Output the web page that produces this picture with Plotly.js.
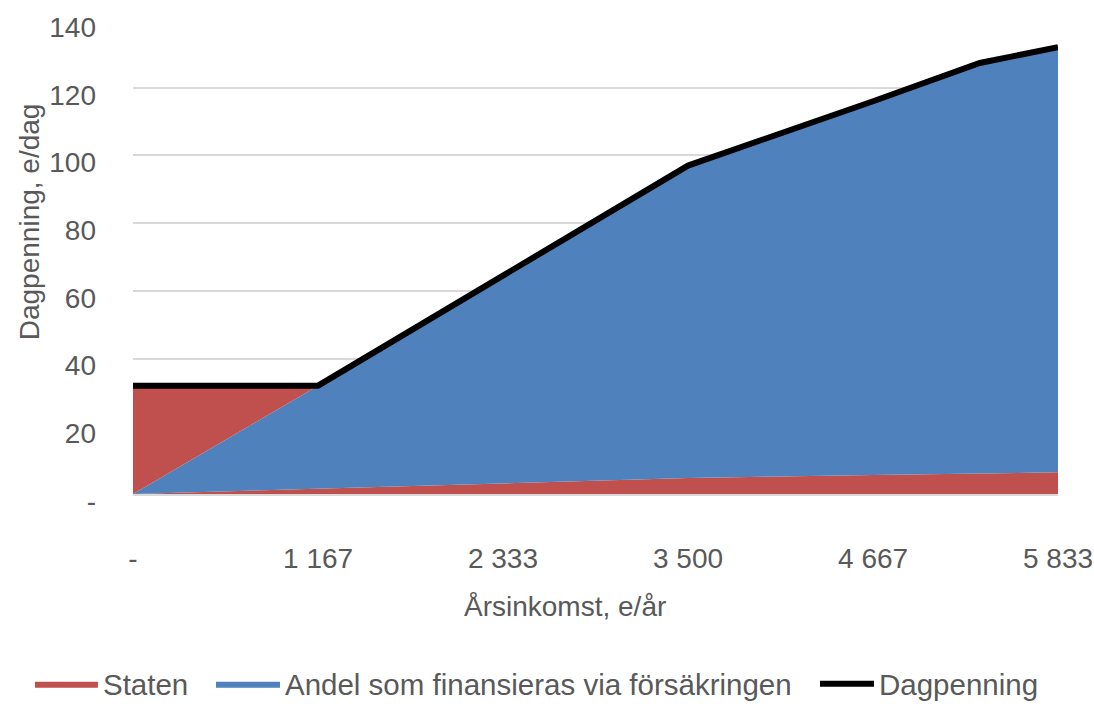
<!DOCTYPE html>
<html>
<head>
<meta charset="utf-8">
<script src="https://cdn.plot.ly/plotly-3.0.1.min.js"></script>
<style>
  html, body { margin: 0; padding: 0; background: white; }
  #chart { width: 1094px; height: 704px; }
</style>
</head>
<body>
<div id="chart"></div>
<script>
// Inkomst (x) och belopp per dag
var inkomst = [0, 1167, 2333, 3500, 4667, 5340, 5833];
var staten = [0, 1.6, 3.1, 4.7, 5.6, 6.1, 6.4];          // statens andel (nedre remsa)
var andel = [0, 30.4, 61.4, 92.3, 110.4, 120.9, 125.6];  // finansieras via försäkringen
var statenGrund = [32, 0, 0, 0, 0, 0, 0];                // staten fyller upp till grunddagpenning
var dagpenning = [32, 32, 64.5, 97, 116, 127.3, 132];

var xTicks = [0, 1167, 2333, 3500, 4667, 5833];
var xTickText = ["-", "1 167", "2 333", "3 500", "4 667", "5 833"];
var yTicks = [0, 20, 40, 60, 80, 100, 120, 140];
var yTickText = ["-", "20", "40", "60", "80", "100", "120", "140"];

var red = "#C0504D";
var blue = "#4F81BD";
var grey = "#595959";

var traceStaten = {
    x: inkomst,
    y: staten,
    name: "Staten",
    type: "scatter",
    mode: "lines",
    stackgroup: "one",
    line: { width: 0 },
    fillcolor: red,
    legend: "legend"
};
var traceAndel = {
    x: inkomst,
    y: andel,
    name: "Andel som finansieras via försäkringen",
    type: "scatter",
    mode: "lines",
    stackgroup: "one",
    line: { width: 0 },
    fillcolor: blue,
    legend: "legend2"
};
var traceGrund = {
    x: inkomst,
    y: statenGrund,
    name: "Staten",
    type: "scatter",
    mode: "lines",
    stackgroup: "one",
    line: { width: 0 },
    fillcolor: red,
    showlegend: false
};
var traceDag = {
    x: inkomst,
    y: dagpenning,
    name: "Dagpenning",
    type: "scatter",
    mode: "lines",
    line: { color: "black", width: 6 },
    legend: "legend3"
};

function legendAt(xPos, symbolWidth) {
    return {
        orientation: "h",
        x: xPos,
        xanchor: "left",
        y: -0.401,
        yanchor: "middle",
        itemwidth: symbolWidth,
        bgcolor: "rgba(0,0,0,0)",
        font: { size: 29.5, color: grey }
    };
}

var layout = {
    width: 1094,
    height: 704,
    paper_bgcolor: "white",
    plot_bgcolor: "white",
    font: { family: "Liberation Sans, Arial, sans-serif", size: 28, color: grey },
    margin: { l: 133, r: 36, t: 20, b: 210, autoexpand: false },
    showlegend: true,
    legend: legendAt(-0.1114, 63),
    legend2: legendAt(0.0843, 64),
    legend3: legendAt(0.7373, 54),
    xaxis: {
        range: [0, 5833],
        tickvals: xTicks,
        ticktext: xTickText,
        showgrid: false,
        zeroline: false,
        showline: true,
        linecolor: "#d9d9d9",
        linewidth: 2,
        ticks: "",
        ticklabelstandoff: 38,
        automargin: false
    },
    yaxis: {
        range: [0, 140],
        tickvals: yTicks,
        ticktext: yTickText,
        showgrid: true,
        gridcolor: "#d9d9d9",
        gridwidth: 2,
        zeroline: false,
        showline: false,
        ticks: "",
        ticklabelstandoff: 36,
        ticklabelshift: 7,
        automargin: false
    },
    annotations: [
        {
            text: "Årsinkomst, e/år",
            xref: "paper", yref: "paper",
            x: 0.467, y: -0.238,
            xanchor: "center", yanchor: "middle",
            showarrow: false,
            font: { size: 28, color: grey }
        },
        {
            text: "Dagpenning, e/dag",
            xref: "paper", yref: "paper",
            x: -0.111, y: 0.574,
            xanchor: "center", yanchor: "middle",
            textangle: -90,
            showarrow: false,
            font: { size: 28, color: grey }
        }
    ]
};

var config = { staticPlot: true };

Plotly.newPlot("chart", [traceStaten, traceAndel, traceGrund, traceDag], layout, config);
</script>
</body>
</html>
